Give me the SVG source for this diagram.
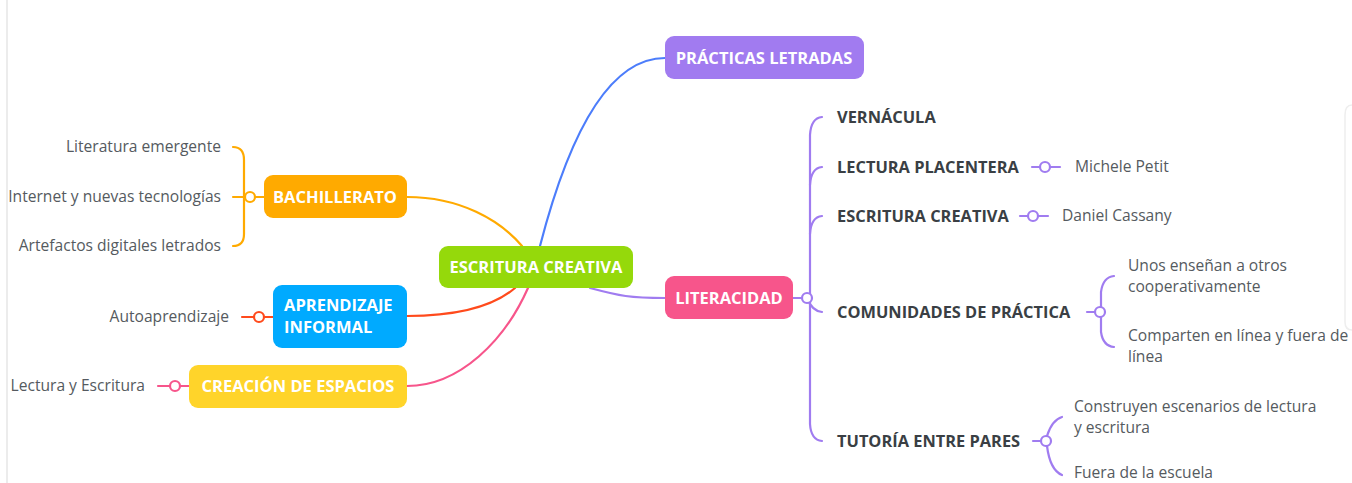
<svg xmlns="http://www.w3.org/2000/svg" width="1352" height="483" viewBox="0 0 1352 483">
<style>
.node{font-family:"Open Sans","Liberation Sans",sans-serif;font-size:16.5px;font-weight:700;fill:#fff}
.sub{font-family:"Open Sans","Liberation Sans",sans-serif;font-size:16.4px;font-weight:700;fill:#3a3f44}
.leaf{font-family:"Open Sans","Liberation Sans",sans-serif;font-size:15.6px;fill:#555a60}
.c{fill:none;stroke-width:2.2;stroke-linecap:round}
.dot{fill:#fff;stroke-width:2.2}
</style>
<rect width="1352" height="483" fill="#fff"/>
<line x1="7" y1="0" x2="7" y2="483" stroke="#e6e6e6" stroke-width="1.5"/>
<path d="M1352,105 Q1345,105 1345,115 L1345,322 Q1345,330 1352,330" fill="none" stroke="#eeeeee" stroke-width="1.5"/>
<g id="connectors">
<path class="c" stroke="#4c7dfb" d="M540,246 C570,130 610,58 665,58"/>
<path class="c" stroke="#a07cf0" d="M590,288 C620,296 630,298 665,298"/>
<path class="c" stroke="#ffaa00" d="M407,197 C460,197 500,220 522,246"/>
<path class="c" stroke="#ff4a1c" d="M407,316 C460,316 495,305 515,288"/>
<path class="c" stroke="#f7558b" d="M407,386 C460,386 505,340 528,288"/>
<path class="c" stroke="#ffaa00" d="M233,147 Q244,147 244,160 L244,234 Q244,246 233,246"/>
<path class="c" stroke="#ffaa00" d="M233,197 L264,197"/>
<circle class="dot" stroke="#ffaa00" cx="250" cy="197" r="5"/>
<path class="c" stroke="#ff4a1c" d="M242,317 L273,317"/>
<circle class="dot" stroke="#ff4a1c" cx="259" cy="317" r="5"/>
<path class="c" stroke="#f7558b" d="M158,386 L189,386"/>
<circle class="dot" stroke="#f7558b" cx="175" cy="386" r="5"/>
<path class="c" stroke="#a07cf0" d="M793,298 L802,298"/>
<path class="c" stroke="#a07cf0" d="M822,117 Q811,118 810,135 L810,424 Q811,440 822,441"/>
<path class="c" stroke="#a07cf0" d="M822,167 Q811,168 810,185"/>
<path class="c" stroke="#a07cf0" d="M822,216 Q811,217 810,234"/>
<path class="c" stroke="#a07cf0" d="M807,298 Q812,311 822,312"/>
<circle class="dot" stroke="#a07cf0" cx="807" cy="298" r="5"/>
<path class="c" stroke="#a07cf0" d="M1032,167 L1060,167"/>
<circle class="dot" stroke="#a07cf0" cx="1045" cy="167" r="5"/>
<path class="c" stroke="#a07cf0" d="M1020,216 L1048,216"/>
<circle class="dot" stroke="#a07cf0" cx="1033" cy="216" r="5"/>
<path class="c" stroke="#a07cf0" d="M1087,312 L1100,312"/>
<path class="c" stroke="#a07cf0" d="M1114,276 Q1103,277 1101,292 L1101,332 Q1103,346 1114,347"/>
<circle class="dot" stroke="#a07cf0" cx="1100" cy="312" r="5"/>
<path class="c" stroke="#a07cf0" d="M1033,441 L1046,441"/>
<path class="c" stroke="#a07cf0" d="M1062,417 Q1052,420 1047,436 M1047,446 Q1050,470 1062,475"/>
<circle class="dot" stroke="#a07cf0" cx="1046" cy="441" r="5"/>
</g>
<g id="n-central"><rect x="439" y="246" width="194" height="42" rx="9" fill="#95d90b"/><text class="node" x="536" y="273" text-anchor="middle">ESCRITURA CREATIVA</text></g>
<g id="n-practicas"><rect x="665" y="36" width="199" height="43" rx="9" fill="#a17bf0"/><text class="node" x="764" y="64" text-anchor="middle">PRÁCTICAS LETRADAS</text></g>
<g id="n-literacidad"><rect x="665" y="276" width="128" height="43" rx="9" fill="#f7558b"/><text class="node" x="729" y="304" text-anchor="middle">LITERACIDAD</text></g>
<g id="n-bachillerato"><rect x="264" y="175" width="143" height="43" rx="9" fill="#ffaa00"/><text class="node" x="335" y="203" text-anchor="middle">BACHILLERATO</text></g>
<g id="n-aprendizaje"><rect x="273" y="285" width="134" height="63" rx="9" fill="#00aaff"/><text class="node" x="284" y="311">APRENDIZAJE</text><text class="node" x="284" y="333">INFORMAL</text></g>
<g id="n-creacion"><rect x="189" y="365" width="218" height="43" rx="9" fill="#ffd42a"/><text class="node" x="298" y="392" text-anchor="middle">CREACIÓN DE ESPACIOS</text></g>
<g id="l-literatura"><text class="leaf" x="221" y="152" text-anchor="end">Literatura emergente</text></g>
<g id="l-internet"><text class="leaf" x="221" y="202" text-anchor="end">Internet y nuevas tecnologías</text></g>
<g id="l-artefactos"><text class="leaf" x="221" y="251" text-anchor="end">Artefactos digitales letrados</text></g>
<g id="l-auto"><text class="leaf" x="229" y="322" text-anchor="end">Autoaprendizaje</text></g>
<g id="l-lectesc"><text class="leaf" x="145" y="391" text-anchor="end">Lectura y Escritura</text></g>
<g id="s-vernacula"><text class="sub" x="837" y="123">VERNÁCULA</text></g>
<g id="s-lectura"><text class="sub" x="837" y="173">LECTURA PLACENTERA</text></g>
<g id="s-escritura"><text class="sub" x="837" y="222">ESCRITURA CREATIVA</text></g>
<g id="s-comunidades"><text class="sub" x="837" y="318">COMUNIDADES DE PRÁCTICA</text></g>
<g id="s-tutoria"><text class="sub" x="837" y="447">TUTORÍA ENTRE PARES</text></g>
<g id="l-petit"><text class="leaf" x="1075" y="172">Michele Petit</text></g>
<g id="l-cassany"><text class="leaf" x="1062" y="221">Daniel Cassany</text></g>
<g id="l-unos"><text class="leaf" x="1128" y="271">Unos enseñan a otros</text><text class="leaf" x="1128" y="292">cooperativamente</text></g>
<g id="l-comparten"><text class="leaf" x="1128" y="341">Comparten en línea y fuera de</text><text class="leaf" x="1128" y="362">línea</text></g>
<g id="l-construyen"><text class="leaf" x="1074" y="412">Construyen escenarios de lectura</text><text class="leaf" x="1074" y="433">y escritura</text></g>
<g id="l-fuera"><text class="leaf" x="1074" y="478">Fuera de la escuela</text></g>
</svg>
